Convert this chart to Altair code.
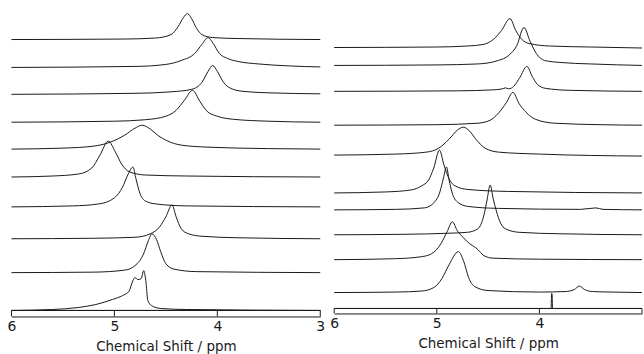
import altair as alt
import pandas as pd

# ---------------- data ----------------
# Each trace: (chemical shift / ppm, intensity above its own baseline)
L1 = [(6,0),(4.9,0.5),(4.6,1.5),(4.45,5),(4.38,13),(4.33,22),(4.29,26),(4.25,21),(4.2,11),(4.15,5),(4.05,2),(3.8,1),(3,0)]
L2 = [(6,0),(4.8,1),(4.5,3),(4.35,7),(4.22,14),(4.15,23),(4.09,30),(4.04,24),(3.98,14),(3.9,9),(3.8,6),(3.6,3.5),(3.3,1.5),(3,0.5)]
L3 = [(6,0),(4.8,1),(4.45,2.5),(4.25,5),(4.15,12),(4.09,23),(4.045,29),(4.0,23),(3.94,12),(3.87,6),(3.75,3),(3.5,1.5),(3,0.5)]
L4 = [(6,0),(5.0,1),(4.7,2.5),(4.5,6),(4.4,12),(4.32,22),(4.24,32),(4.17,21),(4.1,11),(4.0,6),(3.85,3),(3.5,1),(3,0)]
L5 = [(6,0),(5.5,1),(5.2,3),(5.04,7),(4.9,14),(4.8,21),(4.73,24),(4.65,20),(4.58,14),(4.48,8),(4.35,4),(4.1,2),(3.5,0.5),(3,0)]
L6 = [(6,0),(5.6,1),(5.35,3),(5.22,9),(5.14,22),(5.06,36),(4.99,25),(4.93,13),(4.85,5),(4.7,2),(4.3,1),(3,0)]
L7 = [(6,0),(5.4,1),(5.15,3),(5.0,9),(4.92,20),(4.87,32),(4.82,40),(4.79,28),(4.75,13),(4.7,6),(4.6,3),(4.3,1),(3,0)]
L8 = [(6,0),(5.2,0.5),(4.8,1.5),(4.65,5),(4.56,12),(4.5,22),(4.44,34),(4.4,22),(4.35,10),(4.28,5),(4.15,2.5),(3.8,1),(3,0)]
L9 = [(6,0),(5.2,0.5),(4.9,2.5),(4.8,7),(4.72,18),(4.67,32),(4.635,39),(4.59,33),(4.55,21),(4.5,9),(4.42,3.5),(4.2,1),(3,0)]
L10 = [(6,0),(5.6,1),(5.35,3),(5.18,6),(5.02,11),(4.92,15),(4.86,19),(4.82,30),(4.8,33),(4.77,31),(4.74,32),(4.715,40),(4.695,30),(4.675,10),(4.64,5),(4.55,2),(4.3,1),(3,0)]
left_traces = [L1, L2, L3, L4, L5, L6, L7, L8, L9, L10]
left_offsets = [278, 250, 223, 195, 168, 140, 110, 78, 44, 6]

R1 = [(6,0),(5.0,0.5),(4.7,1.5),(4.55,3),(4.45,8),(4.37,17),(4.287,29),(4.23,17),(4.17,8),(4.1,4),(3.9,1.5),(3.5,0.5),(3,-0.5)]
R2 = [(6,0),(5.0,0.5),(4.6,1.5),(4.4,5),(4.3,10),(4.22,20),(4.151,38),(4.09,24),(4.03,12),(3.95,5),(3.8,3),(3.5,1.5),(3,0)]
R3 = [(6,0),(4.8,0.5),(4.45,1.5),(4.36,2.5),(4.33,3.5),(4.3,2.5),(4.25,5),(4.19,14),(4.122,25),(4.07,15),(4.02,7),(3.94,3),(3.7,1),(3,0)]
R4 = [(6,0),(5.0,0.5),(4.6,2),(4.48,5),(4.4,12),(4.32,23),(4.258,33),(4.2,22),(4.13,13),(4.04,6),(3.85,2),(3.4,0.5),(3,0)]
R5 = [(6,0),(5.4,1),(5.1,3),(4.98,7),(4.88,16),(4.8,25),(4.742,28),(4.68,24),(4.62,16),(4.53,7),(4.4,3),(4.0,1),(3,-1)]
R6 = [(6,0),(5.5,1),(5.25,3),(5.15,7),(5.08,13),(5.03,25),(4.974,43),(4.93,28),(4.88,14),(4.82,7),(4.7,3.5),(4.3,1.5),(3,0)]
R7 = [(6,0),(5.4,0.5),(5.12,2),(5.03,7),(4.97,18),(4.935,32),(4.906,43),(4.88,30),(4.85,17),(4.8,8),(4.7,3.5),(4.4,1.5),(3.6,0.5),(3.45,2),(3.38,0.5),(3,0)]
R8 = [(6,0),(5.3,0.5),(4.9,1.5),(4.7,2.5),(4.6,6),(4.54,20),(4.51,35),(4.48,50),(4.45,36),(4.42,24),(4.38,12),(4.33,6),(4.2,2.5),(3.8,1),(3,0)]
R9 = [(6,0),(5.4,1),(5.15,3),(5.05,6),(4.96,16),(4.9,28),(4.848,38),(4.8,29),(4.74,22),(4.68,16),(4.62,12),(4.58,8),(4.54,4),(4.45,1.5),(4.0,0.5),(3,0)]
R10 = [(6,0),(5.4,0.5),(5.15,1.5),(5.03,5),(4.95,14),(4.88,28),(4.79,41),(4.74,32),(4.69,15),(4.63,6),(4.5,2),(4.0,0.5),(3.75,1),(3.66,3),(3.61,6.5),(3.56,3),(3.48,1),(3.3,0.5),(3,0)]
R11 = [(6,0),(3.886,0),(3.881,15),(3.877,15),(3.872,0),(3,0)]
right_traces = [R1, R2, R3, R4, R5, R6, R7, R8, R9, R10, R11]
right_offsets = [267, 249, 223, 189, 159, 121, 104, 79, 54, 21, 5]

tick_values = [6, 5, 4, 3]
x_title = "Chemical Shift / ppm"

# ---------------- styling ----------------
INK = "#1a1a1a"
FONT = "DejaVu Sans"


def frame(traces, offsets):
    rows = []
    for k, (tr, off) in enumerate(zip(traces, offsets)):
        for i, (ppm, h) in enumerate(tr):
            rows.append({"trace": k, "i": i, "ppm": ppm, "y": off + h})
    return pd.DataFrame(rows)


def panel(traces, offsets, width, height, box, hide_last=False):
    df = frame(traces, offsets)
    xs = alt.Scale(domain=[6, 3], nice=False, zero=False)
    ys = alt.Scale(domain=[0, height], nice=False, zero=False)
    axis_kw = dict(values=tick_values, format="d", ticks=False, grid=False,
                   domain=True, domainColor=INK, domainWidth=1,
                   labelFont=FONT, labelFontSize=14, labelColor=INK,
                   labelPadding=3, labelFlush=False,
                   title=x_title, titleFont=FONT, titleFontSize=13.5,
                   titleFontWeight="normal", titleColor=INK, titlePadding=6)
    if hide_last:
        axis_kw["labelExpr"] = "datum.value == 3 ? '' : datum.label"
    xaxis = alt.Axis(**axis_kw)
    lines = alt.Chart(df).mark_line(color=INK, strokeWidth=1, interpolate="monotone").encode(
        x=alt.X("ppm:Q", scale=xs, axis=xaxis),
        y=alt.Y("y:Q", scale=ys, axis=None),
        detail="trace:N",
        order="i:Q",
    )
    tdf = pd.DataFrame({"ppm": tick_values})
    ticks = alt.Chart(tdf).mark_rule(color=INK, strokeWidth=1).encode(
        x=alt.X("ppm:Q", scale=xs),
        y=alt.Y(datum=0, scale=ys),
        y2=alt.Y2(datum=box),
    )
    top = alt.Chart(tdf).mark_rule(color=INK, strokeWidth=1).encode(
        x=alt.X(datum=6, scale=xs),
        x2=alt.X2(datum=3),
        y=alt.Y(datum=box, scale=ys),
    )
    return alt.layer(lines, ticks, top).properties(width=width, height=height)


left = panel(left_traces, left_offsets, 310, 317, 6)
right = panel(right_traces, right_offsets, 309, 314, 5, hide_last=True)

chart = alt.hconcat(left, right, spacing=14, bounds="flush").properties(
    padding={"left": 6.5, "top": 0, "right": 0, "bottom": 0}
).configure_view(stroke=None)

chart.save("out.html", embed_options={"renderer": "svg", "actions": False})
